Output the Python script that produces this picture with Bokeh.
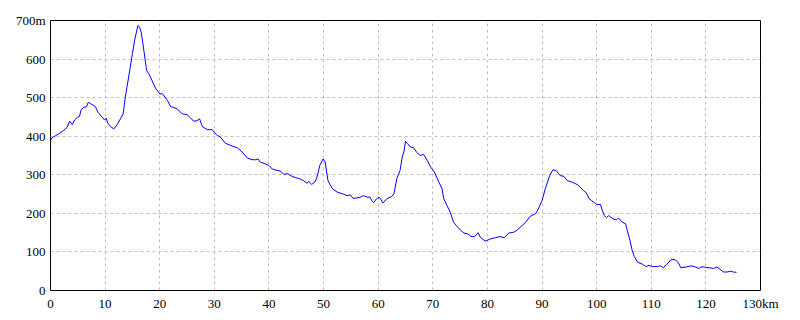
from bokeh.plotting import figure
from bokeh.models import FixedTicker, Range1d
from bokeh.embed import file_html
from bokeh.resources import INLINE

# distance (km) and elevation (m)
distance_km = [0, 0.3, 1.5, 2.4, 3.05, 3.5, 4.0, 4.4, 4.9, 5.3, 5.6, 6.1, 6.6, 6.9, 7.3, 8.2, 8.7, 9.5, 9.9, 10.2,
               10.5, 11.0, 11.6, 12.2, 12.8, 13.3, 13.7, 14.0, 14.5, 15.0, 15.4, 16.0, 16.3, 16.6, 17.1, 17.6, 18.0,
               18.6, 19.2, 20.0, 20.5, 21.4, 22.0, 22.6, 23.2, 24.1, 25.0, 25.6, 26.2, 26.8, 27.3, 27.8, 28.7, 29.6,
               30.5, 31.1, 32.0, 33.0, 34.2, 35.1, 36.0, 36.9, 37.5, 38.0, 38.4, 39.4, 40.0, 40.6, 41.5, 42.1, 42.7,
               43.4, 44.2, 44.8, 45.6, 46.3, 47.0, 47.3, 47.8, 48.4, 48.8, 49.3, 49.9, 50.3, 50.8, 51.6, 52.5, 53.4,
               54.3, 54.9, 55.4, 56.1, 56.8, 57.3, 58.0, 58.5, 58.9, 59.2, 59.7, 60.2, 60.9, 61.6, 62.5, 62.9, 63.4,
               64.0, 64.4, 64.7, 65.0, 65.3, 65.9, 66.5, 67.0, 67.7, 68.3, 69.0, 69.6, 70.3, 71.1, 71.7, 72.0, 72.6,
               73.2, 73.8, 74.8, 75.7, 76.4, 77.0, 77.7, 78.3, 78.7, 79.6, 80.6, 81.5, 82.3, 82.7, 83.1, 83.9, 84.8,
               85.4, 86.4, 87.0, 87.8, 88.8, 89.2, 90.0, 90.6, 91.4, 92.0, 92.6, 93.3, 94.0, 94.6, 95.5, 96.4, 97.0,
               97.6, 98.0, 98.4, 98.6, 99.1, 100.0, 100.7, 101.0, 101.4, 101.8, 102.2, 103.0, 103.6, 104.0, 104.7,
               105.3, 105.6, 106.1, 106.5, 106.9, 107.5, 108.3, 109.0, 109.6, 110.2, 111.1, 111.7, 112.2, 112.8,
               113.6, 114.4, 115.0, 115.4, 116.4, 117.3, 118.1, 118.7, 119.1, 119.7, 120.2, 120.8, 121.4, 122.0,
               122.6, 123.2, 123.9, 124.5, 125.0, 125.6]
elevation_m = [389, 396, 406, 415, 423, 439, 430, 442, 449, 451, 468, 475, 476, 488, 485, 477, 462, 449, 442, 447,
               434, 425, 419, 430, 445, 458, 501, 527, 570, 614, 648, 687, 683, 670, 622, 570, 562,
               544, 525, 510, 510, 493, 477, 474, 471, 458, 456, 448, 439, 440, 445, 425, 417, 417,
               402, 398, 382, 376, 370, 359, 344, 339, 339, 341, 333, 328, 324, 315, 311, 310, 301,
               303, 296, 293, 290, 285, 278, 283, 275, 281, 294, 324, 341, 333, 285, 264, 255, 251,
               246, 248, 239, 240, 242, 246, 242, 242, 231, 228, 238, 242, 227, 238, 244, 251, 290,
               311, 346, 359, 387, 382, 372, 370, 359, 350, 353, 337, 320, 307, 281, 264, 238, 220,
               203, 177, 160, 149, 147, 140, 140, 150, 138, 128, 134, 137, 140, 138, 137, 149, 151,
               156, 169, 177, 192, 199, 208, 233, 264, 298, 313, 311, 298, 296, 285, 281, 275, 268,
               259, 255, 245, 238, 233, 223, 223, 209, 194, 189, 194, 186, 183, 188, 177,
               173, 156, 130, 104, 88, 73, 69, 62, 65, 62, 62, 64, 59, 67,
               80, 80, 71, 59, 61, 64, 61, 57, 61, 61, 59, 59, 57, 61,
               55, 48, 48, 50, 48, 47]

x_ticks = list(range(0, 131, 10))
y_ticks = list(range(0, 701, 100))
x_tick_labels = {130: "130km"}
y_tick_labels = {700: "700m"}

FONT = "Liberation Sans Narrow"

p = figure(width=800, height=320, output_backend="svg", toolbar_location=None,
           x_range=Range1d(0, 130), y_range=Range1d(0, 700),
           min_border_left=50, min_border_right=40, min_border_top=20, min_border_bottom=30)

p.line(distance_km, elevation_m, line_color="#0000ff", line_width=1)

p.outline_line_color = "black"
p.outline_line_width = 1
p.outline_line_alpha = 1
p.background_fill_color = "white"
p.border_fill_color = "white"

for ax, ticks, labels in ((p.xaxis[0], x_ticks, x_tick_labels), (p.yaxis[0], y_ticks, y_tick_labels)):
    ax.ticker = FixedTicker(ticks=ticks)
    ax.major_label_overrides = labels
    ax.major_tick_line_color = None
    ax.minor_tick_line_color = None
    ax.major_tick_out = 0
    ax.major_tick_in = 0
    ax.minor_tick_out = 0
    ax.minor_tick_in = 0
    ax.axis_line_color = None
    ax.major_label_text_font = FONT
    ax.major_label_text_font_size = "13px"
    ax.major_label_text_color = "black"

p.xaxis.major_label_standoff = 5
p.yaxis.major_label_standoff = 5

for g in (p.xgrid[0], p.ygrid[0]):
    g.grid_line_color = "#c0c0c0"
    g.grid_line_dash = "3 3"
    g.grid_line_width = 1

open("out.html", "w").write(file_html(p, INLINE))
